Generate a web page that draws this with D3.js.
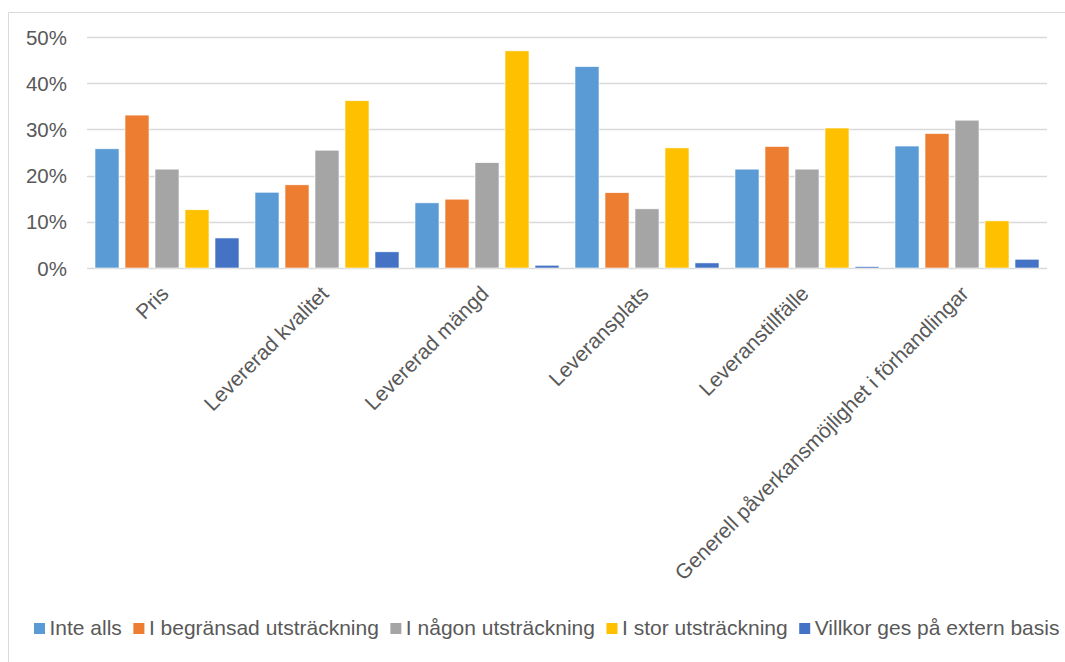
<!DOCTYPE html>
<html>
<head>
<meta charset="utf-8">
<script src="https://cdn.jsdelivr.net/npm/d3@7"></script>
<style>
  body { margin: 0; background: #fff; }
  text { font-family: "Liberation Sans", Arial, sans-serif; fill: #595959; }
</style>
</head>
<body>
<div id="chart"></div>
<script>
// kategorier och serier - categories and series
var categories = ['Pris', 'Levererad kvalitet', 'Levererad mängd', 'Leveransplats',
    'Leveranstillfälle', 'Generell påverkansmöjlighet i förhandlingar'];
var seriesNames = ['Inte alls', 'I begränsad utsträckning', 'I någon utsträckning',
    'I stor utsträckning', 'Villkor ges på extern basis'];
var inteAlls   = [25.8, 16.4, 14.1, 43.6, 21.4, 26.4];
var begransad  = [33.1, 18.0, 14.9, 16.3, 26.3, 29.1];
var nagon      = [21.4, 25.5, 22.8, 12.8, 21.4, 32.0];
var stor       = [12.6, 36.2, 47.0, 26.0, 30.3, 10.2];
var extern     = [6.5, 3.5, 0.6, 1.1, 0.3, 1.9];
var yTicks = [0, 10, 20, 30, 40, 50];

var colors = ['#5b9bd5', '#ed7d31', '#a5a5a5', '#ffc000', '#4472c4'];
var seriesValues = [inteAlls, begransad, nagon, stor, extern];

var W = 1065, H = 662;
var mLeft = 87, mRight = 1047, mTop = 37, mBottom = 268;

var svg = d3.select('#chart')
    .append('svg')
    .attr('width', W)
    .attr('height', H);

// ram - frame
svg.append('path')
    .attr('d', 'M8.5,' + H + ' V12.5 H' + W)
    .attr('fill', 'none')
    .attr('stroke', '#d9d9d9');

var x0 = d3.scaleBand().domain(categories).range([mLeft, mRight]);
var x1 = d3.scaleBand().domain(seriesNames).range([8, x0.bandwidth() - 8]).paddingInner(0.2);
var y = d3.scaleLinear().domain([0, 50]).range([mBottom, mTop]);

// rutnät - grid
svg.append('g')
    .selectAll('line')
    .data(yTicks)
    .enter()
    .append('line')
    .attr('x1', mLeft)
    .attr('x2', mRight)
    .attr('y1', function(d){ return Math.round(y(d)) + 0.5; })
    .attr('y2', function(d){ return Math.round(y(d)) + 0.5; })
    .attr('stroke', '#d9d9d9')
    .attr('stroke-width', 1.3);

svg.append('g')
    .selectAll('text')
    .data(yTicks)
    .enter()
    .append('text')
    .attr('x', 67)
    .attr('y', function(d){ return y(d) + 7.5; })
    .attr('text-anchor', 'end')
    .style('font-size', '20.5px')
    .text(function(d){ return d + '%'; });

// staplar - bars
var rows = [];
categories.forEach(function(c, i){
    seriesNames.forEach(function(s, j){
        rows.push({cat: c, ser: s, val: seriesValues[j][i], col: colors[j]});
    });
});

svg.append('g')
    .selectAll('rect')
    .data(rows)
    .enter()
    .append('rect')
    .attr('x', function(d){ return x0(d.cat) + x1(d.ser); })
    .attr('width', x1.bandwidth())
    .attr('y', function(d){ return y(d.val); })
    .attr('height', function(d){ return y(0) - y(d.val); })
    .attr('fill', function(d){ return d.col; })
    .attr('stroke', '#fff')
    .attr('stroke-width', 0.6);

// kategorietiketter - category labels
svg.append('g')
    .selectAll('text')
    .data(categories)
    .enter()
    .append('text')
    .attr('transform', function(d){
        return 'translate(' + (x0(d) + x0.bandwidth() / 2 + 3) + ',' + 295 + ') rotate(-45)';
    })
    .attr('text-anchor', 'end')
    .style('font-size', '21px')
    .text(function(d){ return d; });

// förklaring - legend
var lg = svg.append('g');
var lx = 34, ly = 623;
seriesNames.forEach(function(s, j){
    lg.append('rect')
        .attr('x', lx)
        .attr('y', ly)
        .attr('width', 11)
        .attr('height', 11)
        .attr('fill', colors[j]);
    var t = lg.append('text')
        .attr('x', lx + 15.5)
        .attr('y', ly + 12)
        .style('font-size', '21px')
        .text(s);
    lx = lx + 15.5 + t.node().getComputedTextLength() + 11.5;
});
</script>
</body>
</html>
